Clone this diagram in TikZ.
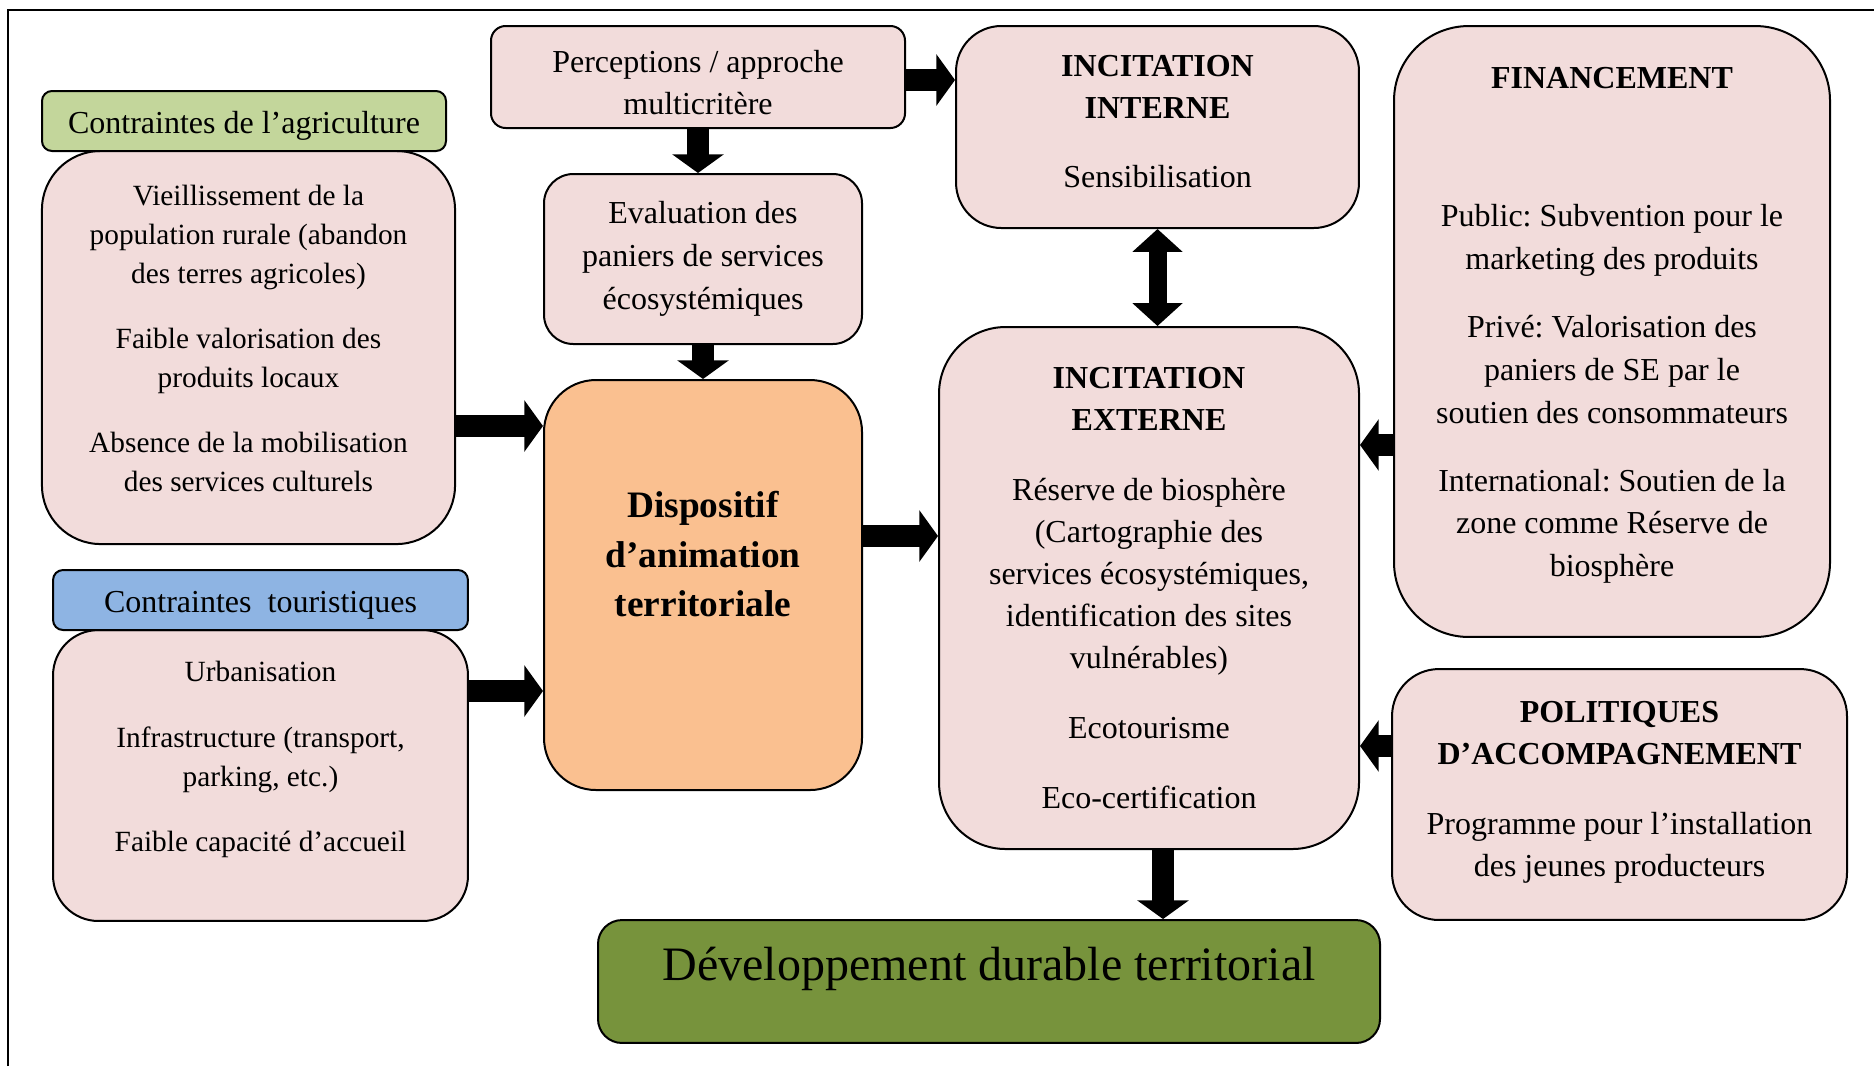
\documentclass[tikz,border=0pt]{standalone}
\usepackage{fontspec}
\setmainfont{Liberation Serif}
\frenchspacing
\usetikzlibrary{arrows.meta}
\definecolor{pinkbox}{HTML}{F2DCDB}
\definecolor{orangebox}{HTML}{FAC090}
\definecolor{greenhead}{HTML}{C3D69B}
\definecolor{bluehead}{HTML}{8EB4E3}
\definecolor{greendark}{HTML}{77933C}
\tikzset{box/.style={draw,line width=0.75pt,fill=pinkbox,align=center,inner sep=3pt},
  headbox/.style={box,rounded corners=3.75pt,minimum height=22.5pt,text height=11.8pt},
  blockarr/.style={line width=8.6pt,-{Triangle[width=19pt,length=7pt]}},
  dblarr/.style={line width=6.75pt,{Triangle[width=18.4pt,length=8.6pt]}-{Triangle[width=18.4pt,length=8.6pt]}}}
\begin{document}
\begin{tikzpicture}[x=0.375pt,y=-0.375pt,font=\fontsize{12}{15.75}\selectfont]
\useasboundingbox (0,0) rectangle (1874,1066);
\draw[line width=0.75pt] (8,1066) -- (8,10) -- (1874,10);
\node[box,rounded corners=22pt,minimum width=154.9pt,minimum height=147.4pt,font=\fontsize{11}{14.6}\selectfont,text depth=7pt] (agri) at (248.5,347.5) {Vieillissement de la\\population rurale (abandon\\des terres agricoles)\\[9.75pt]Faible valorisation des\\produits locaux\\[9.75pt]Absence de la mobilisation\\des services culturels};
\node[headbox,fill=greenhead,minimum width=151.5pt] (agrihead) at (244,121) {Contraintes de l’agriculture};
\node[box,rounded corners=17pt,minimum width=155.6pt,minimum height=109.1pt,font=\fontsize{11}{14.6}\selectfont,text depth=14.3pt] (tour) at (260.5,775.5) {Urbanisation\\[10pt]Infrastructure (transport,\\parking, etc.)\\[10pt]Faible capacité d’accueil};
\node[headbox,fill=bluehead,minimum width=155.6pt] (tourhead) at (260.5,600) {Contraintes~ touristiques};
\node[box,rounded corners=5.5pt,minimum width=155.25pt,minimum height=38.25pt,text height=28.1pt] (perc) at (698,77) {Perceptions / approche\\multicritère};
\node[box,rounded corners=11pt,minimum width=119.25pt,minimum height=63.75pt,font=\fontsize{12}{16}\selectfont] (eval) at (703,259) {Evaluation des\\paniers de services\\écosystémiques};
\node[box,fill=orangebox,rounded corners=19.5pt,minimum width=119.25pt,minimum height=153.75pt,font=\fontsize{14}{18.6}\selectfont\bfseries,text depth=23.2pt] (disp) at (703,585) {Dispositif\\d’animation\\territoriale};
\node[box,rounded corners=17pt,minimum width=151.1pt,minimum height=75.75pt,text depth=4pt] (intint) at (1157.5,127) {\textbf{INCITATION}\\\textbf{INTERNE}\\[10pt]Sensibilisation};
\node[box,rounded corners=25pt,minimum width=157.5pt,minimum height=195.75pt] (intext) at (1149,588) {\textbf{INCITATION}\\\textbf{EXTERNE}\\[10.5pt]Réserve de biosphère\\(Cartographie des\\services écosystémiques,\\identification des sites\\vulnérables)\\[10.5pt]Ecotourisme\\[10.5pt]Eco-certification};
\node[box,rounded corners=28pt,minimum width=163.5pt,minimum height=229.1pt,font=\fontsize{12}{16.1}\selectfont,text depth=7pt] (fin) at (1612,331.5) {\textbf{FINANCEMENT}\\[35.5pt]Public: Subvention pour le\\marketing des produits\\[9.4pt]Privé: Valorisation des\\paniers de SE par le\\soutien des consommateurs\\[9.4pt]International: Soutien de la\\zone comme Réserve de\\biosphère};
\node[box,rounded corners=17.6pt,minimum width=170.6pt,minimum height=94.1pt,text depth=4.1pt] (pol) at (1619.5,794.5) {\textbf{POLITIQUES}\\\textbf{D’ACCOMPAGNEMENT}\\[10.5pt]Programme pour l’installation\\des jeunes producteurs};
\node[box,fill=greendark,rounded corners=9pt,minimum width=293.25pt,minimum height=46.1pt,font=\fontsize{18}{22}\selectfont,text depth=13.2pt] (dev) at (989,981.5) {Développement durable territorial};
\coordinate (yi) at (0,80);
\coordinate (ya) at (0,426);
\coordinate (yt) at (0,691);
\coordinate (yd) at (0,536);
\coordinate (yf) at (0,445);
\coordinate (yp) at (0,746);
\coordinate (xd) at (1163,0);
\draw[blockarr] (perc.east |- yi) -- (intint.west |- yi);
\draw[blockarr] (perc.south) -- (perc.south |- eval.north);
\draw[blockarr] (eval.south) -- (eval.south |- disp.north);
\draw[blockarr] (agri.east |- ya) -- (disp.west |- ya);
\draw[blockarr] (tour.east |- yt) -- (disp.west |- yt);
\draw[blockarr] (disp.east |- yd) -- (intext.west |- yd);
\draw[dblarr] (intint.south) -- (intint.south |- intext.north);
\draw[blockarr] (fin.west |- yf) -- (intext.east |- yf);
\draw[blockarr] (pol.west |- yp) -- (intext.east |- yp);
\draw[blockarr] (intext.south -| xd) -- (dev.north -| xd);
\end{tikzpicture}
\end{document}
